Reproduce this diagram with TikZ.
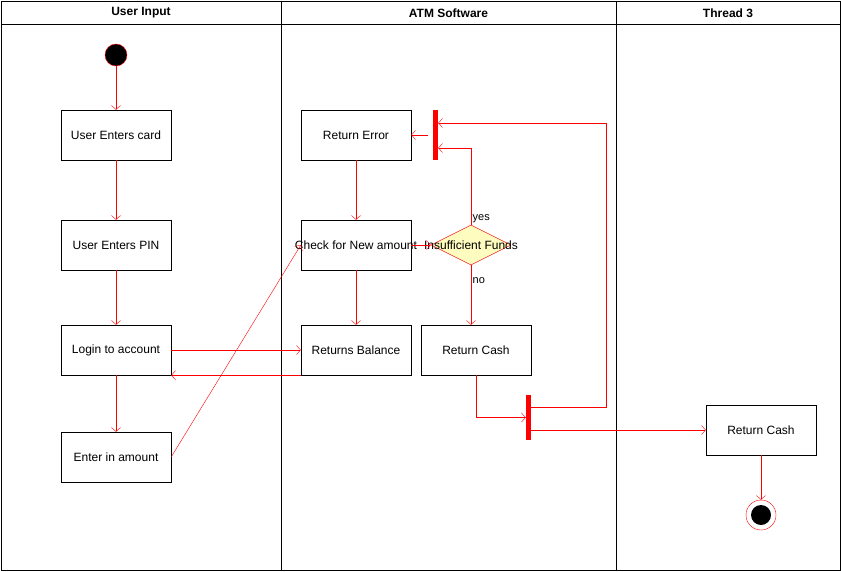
\documentclass[tikz,border=0pt]{standalone}
\usepackage{fontspec}
\setmainfont{Liberation Sans}
\usepackage{tikz}
\usetikzlibrary{positioning,shapes.geometric,arrows.meta}
\tikzset{
  every node/.style={
    font=\fontsize{12}{14}\selectfont
  },
  act/.style={draw, minimum width=110pt, minimum height=50pt, inner sep=0pt},
  lanehead/.style={font=\fontsize{12}{14}\selectfont\bfseries},
  bar/.style={fill=red, minimum width=5pt, inner sep=0pt},
  flow/.style={draw=red, -{Straight Barb[length=4pt,width=9pt]}},
  small/.style={font=\fontsize{11}{13}\selectfont, inner sep=1.5pt}
}

\begin{document}
\begin{tikzpicture}[x=1pt,y=1pt]
      \useasboundingbox (0,0) rectangle (841,-571);
      % lanes
      \draw (1,-1) rectangle (281,-570) (1,-24) -- (281,-24);
      \draw (281,-1) rectangle (616,-570) (281,-24) -- (616,-24);
      \draw (616,-1) rectangle (840,-570) (616,-24) -- (840,-24);
      \node[lanehead] (LaneUser) at (141,-13) {User Input};
      \node[lanehead] (LaneAtm) at (448.5,-13) {ATM Software};
      \node[lanehead] (LaneThree) at (728,-13) {Thread 3};

      \node[circle, draw=red, fill=black, minimum size=22pt] (Start) at (116,-55) {};
      \node[act] (Card) at (116,-135) {User Enters card};
      \node[act, on grid, below=110pt of Card] (Pin) {User Enters PIN};
      \node[act, on grid, below=105pt of Pin] (Login) {Login to account};
      \node[act, on grid, below=107pt of Login] (Amount) {Enter in amount};

      \node[act, on grid, right=240pt of Card] (Err) {Return Error};
      \node[act, on grid, right=240pt of Pin, label=center:{Check for New amount}] (Check) {};
      \node[act, on grid, right=240pt of Login] (Balance) {Returns Balance};
      \node[act, on grid, right=120pt of Balance] (RetCash) {Return Cash};
      \node[bar, minimum height=50pt] (BarErr) at (435.5,-135) {};
      \node[diamond, draw=red, fill=yellow!25, minimum width=80pt, minimum height=40pt,
      inner sep=0pt, label=center:{Insufficient Funds}] (Funds) at (471,-245) {};
      \node[bar, minimum height=45pt] (BarRet) at (528.5,-417.5) {};

      \node[act] (Cash) at (761,-430) {Return Cash};
      \node[circle, draw=red, minimum size=30pt,
      path picture={\fill (path picture bounding box.center) circle (10pt);}] (Final) at (761,-515) {};

      \draw[flow] (Start) to (Card);
      \draw[flow] (Card) to (Pin);
      \draw[flow] (Pin) to (Login);
      \draw[flow] (Login) to (Amount);
      \draw[flow] (Login) to (Balance);
      \draw[flow] (Balance.south west) to (Login.south east);
      \draw[flow] (Amount.east) to (Check.west);
      \draw[flow] (Err) to (Check);
      \draw[flow] (Check) to (Balance);
      \draw[flow] (Check) to (Funds);
      \draw[flow] (Funds.north) node[small, anchor=south west] {yes}
        |- ([yshift=-13pt]BarErr.east);
      \draw[flow] (Funds.south) node[small, anchor=north west, yshift=-11pt] {no}
        to (Funds.south |- RetCash.north);
      \draw[flow] (BarErr.west) ++(-5pt,0) to (Err.east);
      \draw[flow] (RetCash.south) |- (BarRet.west);
      \draw[flow] ([yshift=10pt]BarRet.east) -- ++(75,0) |- ([yshift=12pt]BarErr.east);
      \draw[flow] ([yshift=-12.5pt]BarRet.east) to (Cash.west);
      \draw[flow] (Cash) to (Final);
    \end{tikzpicture}
\end{document}
